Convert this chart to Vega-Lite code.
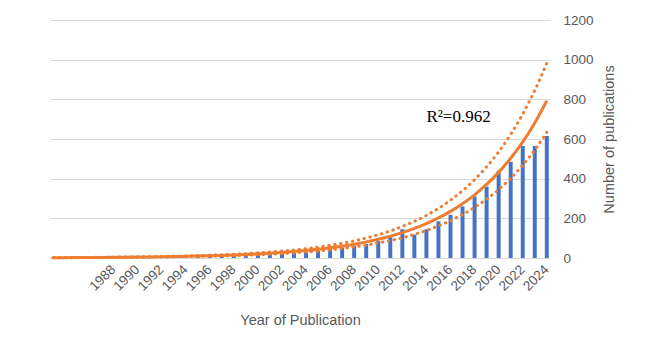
{
  "$schema": "https://vega.github.io/schema/vega-lite/v6.json",
  "width": 500,
  "height": 238,
  "autosize": {"type": "none"},
  "padding": {"left": 50, "top": 20, "right": 96, "bottom": 94},
  "background": "white",
  "config": {
    "view": {"stroke": null},
    "axis": {"labelFont": "Liberation Sans", "titleFont": "Liberation Sans", "labelColor": "#595959", "titleColor": "#595959", "titleFontWeight": "normal", "gridColor": "#d9d9d9", "gridWidth": 1, "domain": false, "ticks": false},
    "axisY": {"labelOverlap": false, "tickCount": 6}
  },
  "data": {
    "values": [
      {"year": 1983, "pubs": 1, "trend": 1.6, "upper": 2.0, "lower": 1.3},
      {"year": 1984, "pubs": 1, "trend": 1.8, "upper": 2.2, "lower": 1.4},
      {"year": 1985, "pubs": 1, "trend": 2.1, "upper": 2.6, "lower": 1.7},
      {"year": 1986, "pubs": 2, "trend": 2.5, "upper": 3.1, "lower": 2.0},
      {"year": 1987, "pubs": 2, "trend": 2.9, "upper": 3.6, "lower": 2.3},
      {"year": 1988, "pubs": 2, "trend": 3.3, "upper": 4.1, "lower": 2.6},
      {"year": 1989, "pubs": 3, "trend": 3.9, "upper": 4.8, "lower": 3.1},
      {"year": 1990, "pubs": 3, "trend": 4.5, "upper": 5.6, "lower": 3.6},
      {"year": 1991, "pubs": 3, "trend": 5.3, "upper": 6.6, "lower": 4.2},
      {"year": 1992, "pubs": 4, "trend": 6.1, "upper": 7.6, "lower": 4.9},
      {"year": 1993, "pubs": 5, "trend": 7.1, "upper": 8.8, "lower": 5.7},
      {"year": 1994, "pubs": 6, "trend": 8.3, "upper": 10, "lower": 6.6},
      {"year": 1995, "pubs": 7, "trend": 9.7, "upper": 12, "lower": 7.8},
      {"year": 1996, "pubs": 8, "trend": 11.3, "upper": 14, "lower": 9},
      {"year": 1997, "pubs": 10, "trend": 13.1, "upper": 16, "lower": 10.5},
      {"year": 1998, "pubs": 12, "trend": 15.2, "upper": 19, "lower": 12},
      {"year": 1999, "pubs": 15, "trend": 17.8, "upper": 22, "lower": 14},
      {"year": 2000, "pubs": 30, "trend": 20.7, "upper": 26, "lower": 17},
      {"year": 2001, "pubs": 18, "trend": 24.1, "upper": 30, "lower": 19},
      {"year": 2002, "pubs": 22, "trend": 28.0, "upper": 35, "lower": 22},
      {"year": 2003, "pubs": 24, "trend": 32.6, "upper": 40, "lower": 26},
      {"year": 2004, "pubs": 28, "trend": 38.0, "upper": 47, "lower": 30},
      {"year": 2005, "pubs": 36, "trend": 44.2, "upper": 55, "lower": 35},
      {"year": 2006, "pubs": 45, "trend": 51.4, "upper": 64, "lower": 41},
      {"year": 2007, "pubs": 53, "trend": 59.9, "upper": 74, "lower": 48},
      {"year": 2008, "pubs": 62, "trend": 69.7, "upper": 86, "lower": 56},
      {"year": 2009, "pubs": 72, "trend": 81.2, "upper": 101, "lower": 65},
      {"year": 2010, "pubs": 85, "trend": 94.5, "upper": 117, "lower": 76},
      {"year": 2011, "pubs": 105, "trend": 110.0, "upper": 136, "lower": 88},
      {"year": 2012, "pubs": 145, "trend": 128.0, "upper": 159, "lower": 102},
      {"year": 2013, "pubs": 118, "trend": 149.0, "upper": 185, "lower": 119},
      {"year": 2014, "pubs": 145, "trend": 173.5, "upper": 215, "lower": 139},
      {"year": 2015, "pubs": 185, "trend": 202.0, "upper": 250, "lower": 162},
      {"year": 2016, "pubs": 218, "trend": 235.1, "upper": 292, "lower": 188},
      {"year": 2017, "pubs": 260, "trend": 273.7, "upper": 339, "lower": 219},
      {"year": 2018, "pubs": 310, "trend": 318.6, "upper": 395, "lower": 255},
      {"year": 2019, "pubs": 360, "trend": 370.9, "upper": 460, "lower": 297},
      {"year": 2020, "pubs": 440, "trend": 431.8, "upper": 535, "lower": 345},
      {"year": 2021, "pubs": 485, "trend": 502.7, "upper": 623, "lower": 402},
      {"year": 2022, "pubs": 565, "trend": 585.2, "upper": 726, "lower": 468},
      {"year": 2023, "pubs": 565, "trend": 681.2, "upper": 845, "lower": 545},
      {"year": 2024, "pubs": 615, "trend": 793, "upper": 983, "lower": 634}
    ]
  },
  "encoding": {
    "x": {
      "field": "year", "type": "ordinal",
      "scale": {"paddingInner": 0.67, "paddingOuter": 0.1},
      "axis": {
        "title": "Year of Publication", "titleFontSize": 14.5, "titleBaseline": "alphabetic", "titleY": 66,
        "values": [1988, 1990, 1992, 1994, 1996, 1998, 2000, 2002, 2004, 2006, 2008, 2010, 2012, 2014, 2016, 2018, 2020, 2022, 2024],
        "labelAngle": -45, "labelAlign": "right", "labelBaseline": "middle", "labelPadding": 9, "labelFontSize": 13.5,
        "grid": false, "labelOverlap": false
      }
    }
  },
  "layer": [
    {
      "mark": {"type": "bar", "color": "#4472C4"},
      "encoding": {
        "y": {
          "field": "pubs", "type": "quantitative",
          "scale": {"domain": [0, 1200], "nice": false},
          "axis": {
            "orient": "right", "title": "Number of publications", "titleFontSize": 14.5,
            "titleAngle": 270, "titleAlign": "center", "titleBaseline": "alphabetic", "titleX": 63, "titleY": 119,
            "format": "d", "labelFontSize": 13.5, "labelPadding": 13, "grid": true
          }
        }
      }
    },
    {
      "mark": {"type": "line", "color": "#ED7D31", "strokeWidth": 3, "strokeDash": [0.5, 5.5], "strokeCap": "round", "interpolate": "monotone"},
      "encoding": {"y": {"field": "upper", "type": "quantitative"}}
    },
    {
      "mark": {"type": "line", "color": "#ED7D31", "strokeWidth": 3, "strokeDash": [0.5, 5.5], "strokeCap": "round", "interpolate": "monotone"},
      "encoding": {"y": {"field": "lower", "type": "quantitative"}}
    },
    {
      "mark": {"type": "line", "color": "#ED7D31", "strokeWidth": 3, "interpolate": "monotone"},
      "encoding": {"y": {"field": "trend", "type": "quantitative"}}
    },
    {
      "data": {"values": [{"year": 2014, "val": 684, "label": "R²=0.962"}]},
      "mark": {"type": "text", "font": "Liberation Serif", "fontSize": 17, "align": "left", "baseline": "alphabetic", "color": "#000000"},
      "encoding": {
        "x": {"field": "year", "type": "ordinal"},
        "y": {"field": "val", "type": "quantitative"},
        "text": {"field": "label"}
      }
    }
  ]
}
